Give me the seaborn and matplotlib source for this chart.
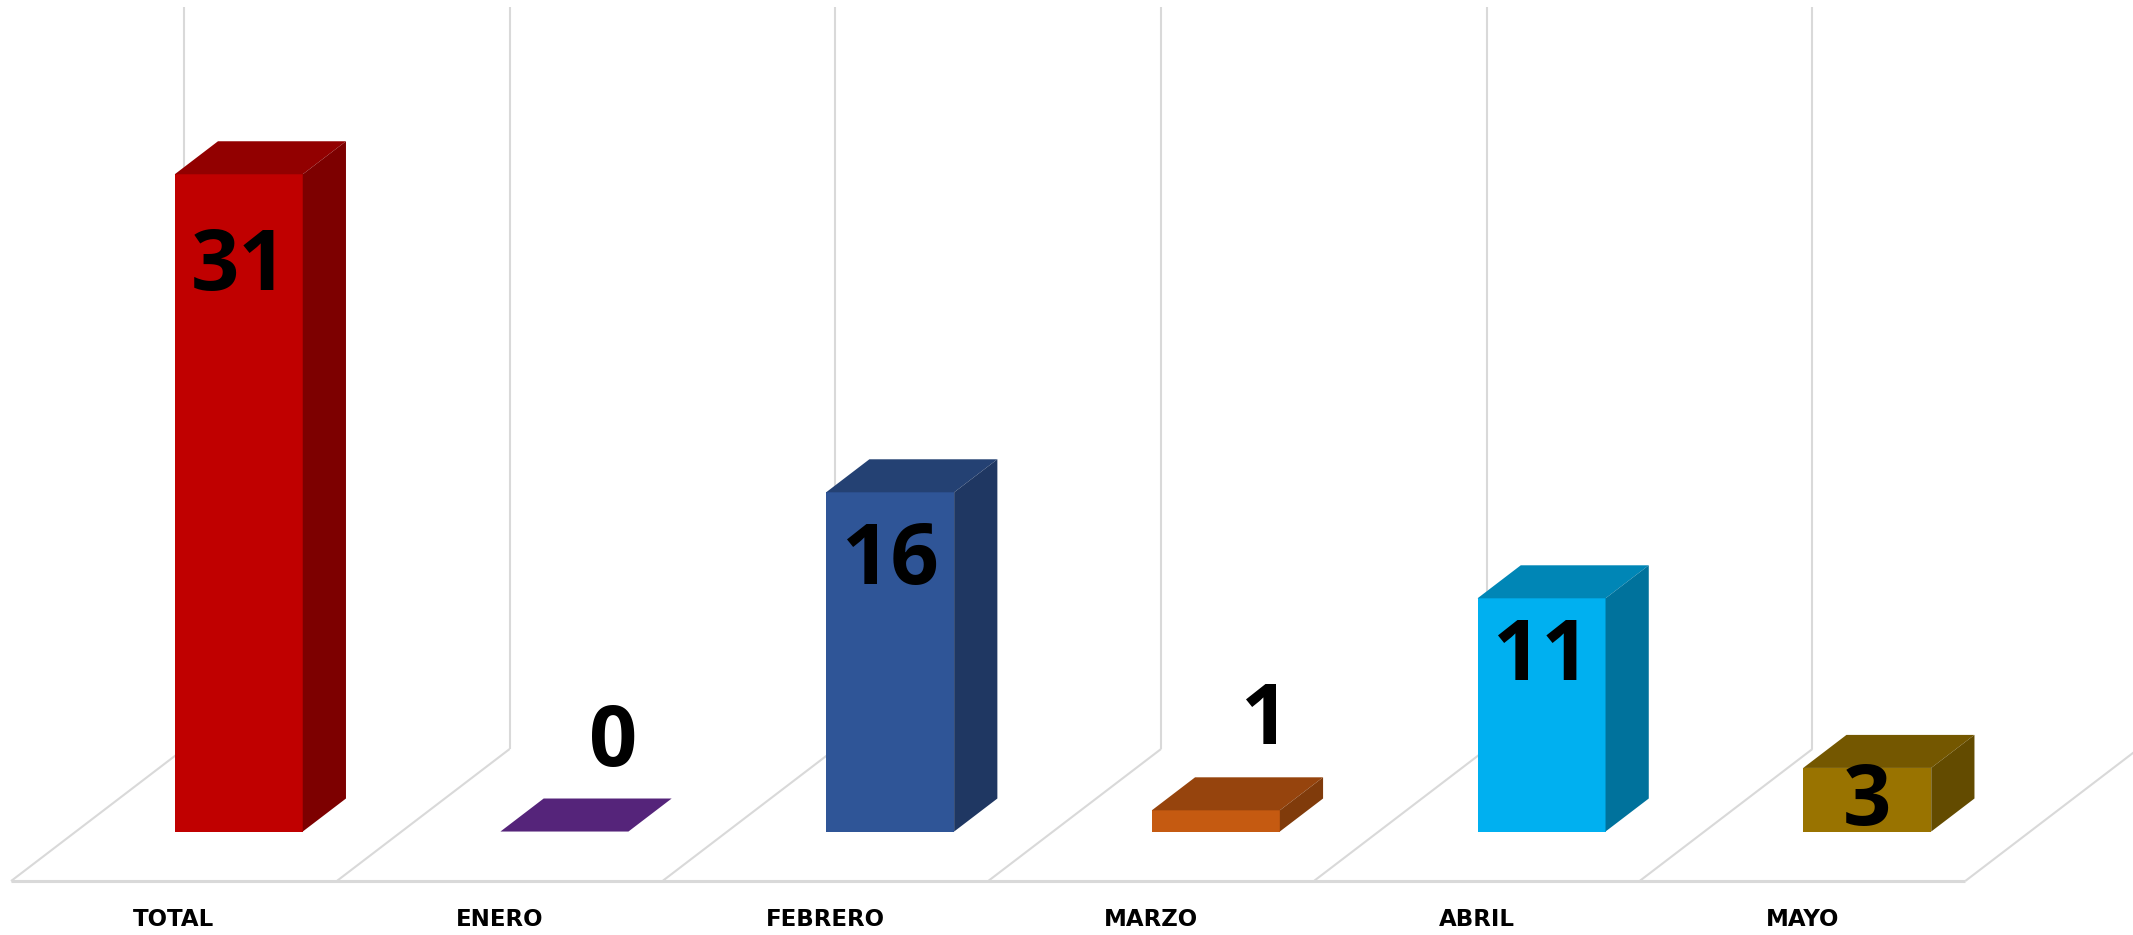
import matplotlib
matplotlib.use("Agg")
import matplotlib.pyplot as plt
import seaborn as sns
import pandas as pd
import numpy as np
from matplotlib.patches import Polygon
from matplotlib.colors import to_rgb

# ---- data ----
categories = ["TOTAL", "ENERO", "FEBRERO", "MARZO", "ABRIL", "MAYO"]
values = [31, 0, 16, 1, 11, 3]
front_colors = ["#C00000", "#7030A0", "#2F5597", "#C55A11", "#00B0F0", "#997300"]

sns.set_style("white")
plt.rcParams["font.family"] = ["Open Sans", "DejaVu Sans"]

fig = plt.figure(figsize=(21.33, 9.35), dpi=100)
ax = fig.add_axes([0, 0, 1, 1])

df = pd.DataFrame({"cat": categories, "val": values})
sns.barplot(data=df, x="cat", y="val", hue="cat", palette=front_colors,
            width=0.393, saturation=1, legend=False, ax=ax, zorder=3,
            linewidth=0, err_kws={"linewidth": 0})

# 3D projection parameters (floor depth in category / value units)
DX, DY = 0.531, 6.23
f0, f1 = -0.375, 0.625     # floor depth range relative to bar front face
bd = 0.25                  # bar depth as fraction of the floor depth
wall_top = 38.9
grid = "#D9D9D9"
n = len(categories)

# floor dividers and back wall lines
for k in range(n + 1):
    x0 = k - 0.5
    ax.plot([x0 + f0 * DX, x0 + f1 * DX], [f0 * DY, f1 * DY], color=grid,
            lw=1.5, zorder=1, solid_capstyle="butt")
    ax.plot([x0 + f1 * DX, x0 + f1 * DX], [f1 * DY, wall_top], color=grid,
            lw=1.5, zorder=1, solid_capstyle="butt")
ax.plot([-0.5 + f0 * DX, n - 0.5 + f0 * DX], [f0 * DY, f0 * DY], color=grid,
        lw=2.2, zorder=1, solid_capstyle="butt")


def shade(c, f):
    r, g, b = to_rgb(c)
    return (r * f, g * f, b * f)


patches = sorted([p for p in ax.patches], key=lambda p: p.get_x())
for p, col in zip(patches, front_colors):
    x, w, h = p.get_x(), p.get_width(), p.get_height()
    ddx, ddy = bd * DX, bd * DY
    top = Polygon([(x, h), (x + w, h), (x + w + ddx, h + ddy), (x + ddx, h + ddy)],
                  closed=True, facecolor=shade(col, 0.76), edgecolor="none", zorder=3)
    side = Polygon([(x + w, 0), (x + w + ddx, ddy), (x + w + ddx, h + ddy), (x + w, h)],
                   closed=True, facecolor=shade(col, 0.65), edgecolor="none", zorder=3)
    ax.add_patch(top)
    ax.add_patch(side)

# value labels (baseline placed half a digit height below the desired centre)
half_digit = 1.46
for i, v in enumerate(values):
    if v >= 3:
        cx, cy = i, v - 0.72 * np.sqrt(v)
    else:
        cx, cy = i + 0.151, v + 4.57
    ax.text(cx, cy - half_digit, str(v), ha="center", va="baseline",
            fontsize=61, fontweight="bold", color="black", zorder=5)

# category labels
for i, c in enumerate(categories):
    ax.text(i + f0 * DX, -4.07 - 0.4, c, ha="center", va="baseline", fontsize=16.5,
            fontweight="bold", color="black", zorder=5, family=["DejaVu Sans"])

ax.set_xlim(-0.733, 5.816)
ax.set_ylim(-4.88, 39.22)
ax.axis("off")

fig.savefig("out.png", dpi=100)
